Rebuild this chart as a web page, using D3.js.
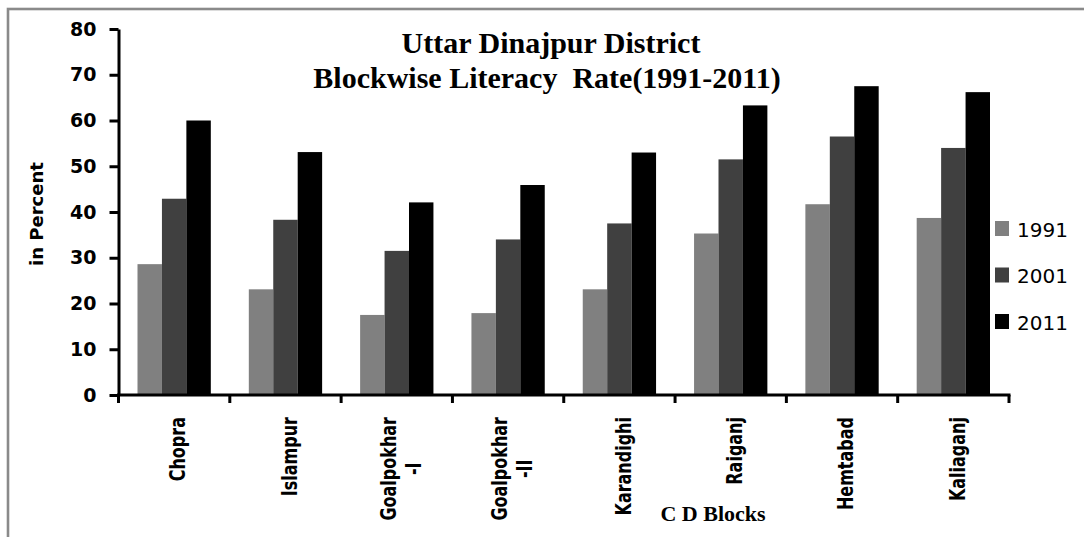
<!DOCTYPE html>
<html>
<head>
<meta charset="utf-8">
<script src="https://cdn.jsdelivr.net/npm/d3@7"></script>
<style>
  body { margin: 0; background: #fff; }
  svg { display: block; }
</style>
</head>
<body>
<svg id="chart" width="1084" height="537"></svg>
<script>
// block names, "\n" = line break in the label
const blocks = ["Chopra", "Islampur", "Goalpokhar\n-I", "Goalpokhar\n-II",
                "Karandighi", "Raiganj", "Hemtabad", "Kaliaganj"];
const years = ["1991", "2001", "2011"];
const rate1991 = [28.6, 23.1, 17.5, 17.9, 23.1, 35.3, 41.7, 38.7];
const rate2001 = [42.9, 38.3, 31.5, 34.0, 37.5, 51.5, 56.5, 54.0];
const rate2011 = [60.0, 53.1, 42.1, 45.9, 53.0, 63.3, 67.5, 66.2];
const yTicks = [0, 10, 20, 30, 40, 50, 60, 70, 80];

const colors = { "1991": "#808080", "2001": "#404040", "2011": "#000000" };
const series = { "1991": rate1991, "2001": rate2001, "2011": rate2011 };

const svg = d3.select("#chart");

// grey frame (only top and left edge visible)
svg.append("rect")
    .attr("x", 8).attr("y", 9)
    .attr("width", 1200).attr("height", 700)
    .attr("fill", "none")
    .attr("stroke", "#8a8a8a")
    .attr("stroke-width", 2.6);

const x0 = d3.scaleBand().domain(blocks).range([118.5, 1009]).paddingInner(0);
const bw = x0.bandwidth();
const x1 = d3.scaleBand().domain(years).range([19, bw - 19]);
const y = d3.scaleLinear().domain([0, 80]).range([395, 29]);

// bars
const groups = svg.append("g").selectAll("g")
    .data(blocks)
    .join("g")
    .attr("transform", d => `translate(${x0(d)},0)`);

groups.selectAll("rect")
    .data((d, i) => years.map(yr => ({ yr: yr, v: series[yr][i] })))
    .join("rect")
    .attr("x", d => x1(d.yr))
    .attr("width", x1.bandwidth())
    .attr("y", d => y(d.v))
    .attr("height", d => y(0) - y(d.v))
    .attr("fill", d => colors[d.yr]);

// y axis
const yAxis = svg.append("g")
    .attr("transform", "translate(118.5,0)")
    .call(d3.axisLeft(y).tickValues(yTicks).tickSize(9).tickSizeOuter(0).tickPadding(13));
yAxis.select(".domain").attr("stroke", "#000").attr("stroke-width", 3);
yAxis.selectAll(".tick line").attr("stroke", "#000").attr("stroke-width", 3);
yAxis.selectAll(".tick text")
    .attr("font-family", "DejaVu Sans")
    .attr("font-weight", "bold")
    .attr("font-size", 19)
    .attr("fill", "#000");

// x axis line + boundary ticks
svg.append("line")
    .attr("x1", x0.range()[0] - 1.5).attr("x2", x0.range()[1] + 1.5)
    .attr("y1", y(0)).attr("y2", y(0))
    .attr("stroke", "#000").attr("stroke-width", 3);

const bounds = blocks.map(b => x0(b)).concat([x0.range()[1]]);
svg.append("g").selectAll("line")
    .data(bounds)
    .join("line")
    .attr("x1", d => d).attr("x2", d => d)
    .attr("y1", y(0)).attr("y2", y(0) + 8)
    .attr("stroke", "#000").attr("stroke-width", 3);

// x labels, rotated, top aligned under the axis, lines centred on each other
const labelTop = 417;
const lineH = 25;
blocks.forEach(function(b) {
    const lines = b.split("\n");
    const cx = x0(b) + bw / 2 + 4;
    const g = svg.append("g");
    const texts = lines.map(function(ln, i) {
        return g.append("text")
            .text(ln)
            .attr("font-family", "DejaVu Sans")
            .attr("font-weight", "bold")
            .attr("font-size", 16)
            .attr("text-anchor", "middle")
            .attr("dy", "0.35em")
            .attr("data-x", cx + (i - (lines.length - 1) / 2) * lineH);
    });
    const maxLen = d3.max(texts, t => t.node().getComputedTextLength());
    texts.forEach(function(t) {
        // glyphs are drawn a bit wider across, like the original
        t.attr("transform", `translate(${t.attr("data-x")},${labelTop + maxLen / 2}) rotate(-90) scale(1,1.3)`);
    });
});

// y axis title
svg.append("text")
    .attr("transform", "translate(43,214) rotate(-90)")
    .attr("text-anchor", "middle")
    .attr("font-family", "DejaVu Sans")
    .attr("font-weight", "bold")
    .attr("font-size", 18)
    .text("in Percent");

// x axis title
svg.append("text")
    .attr("x", 713).attr("y", 521)
    .attr("text-anchor", "middle")
    .attr("font-family", "Liberation Serif")
    .attr("font-weight", "bold")
    .attr("font-size", 22)
    .text("C D Blocks");

// chart title
const title = svg.append("text")
    .attr("text-anchor", "middle")
    .attr("font-family", "Liberation Serif")
    .attr("font-weight", "bold")
    .attr("font-size", 30)
    .attr("xml:space", "preserve");
title.append("tspan").attr("x", 551).attr("y", 53).text("Uttar Dinajpur District");
title.append("tspan").attr("x", 547).attr("y", 88).text("Blockwise Literacy  Rate(1991-2011)");

// legend
const legend = svg.append("g").selectAll("g")
    .data(years)
    .join("g")
    .attr("transform", (d, i) => `translate(995,${221 + i * 46.5})`);
legend.append("rect")
    .attr("width", 14).attr("height", 15)
    .attr("fill", d => colors[d]);
legend.append("text")
    .attr("x", 22).attr("y", 15.5)
    .attr("font-family", "DejaVu Sans")
    .attr("font-size", 20)
    .attr("fill", "#000")
    .text(d => d);
</script>
</body>
</html>
